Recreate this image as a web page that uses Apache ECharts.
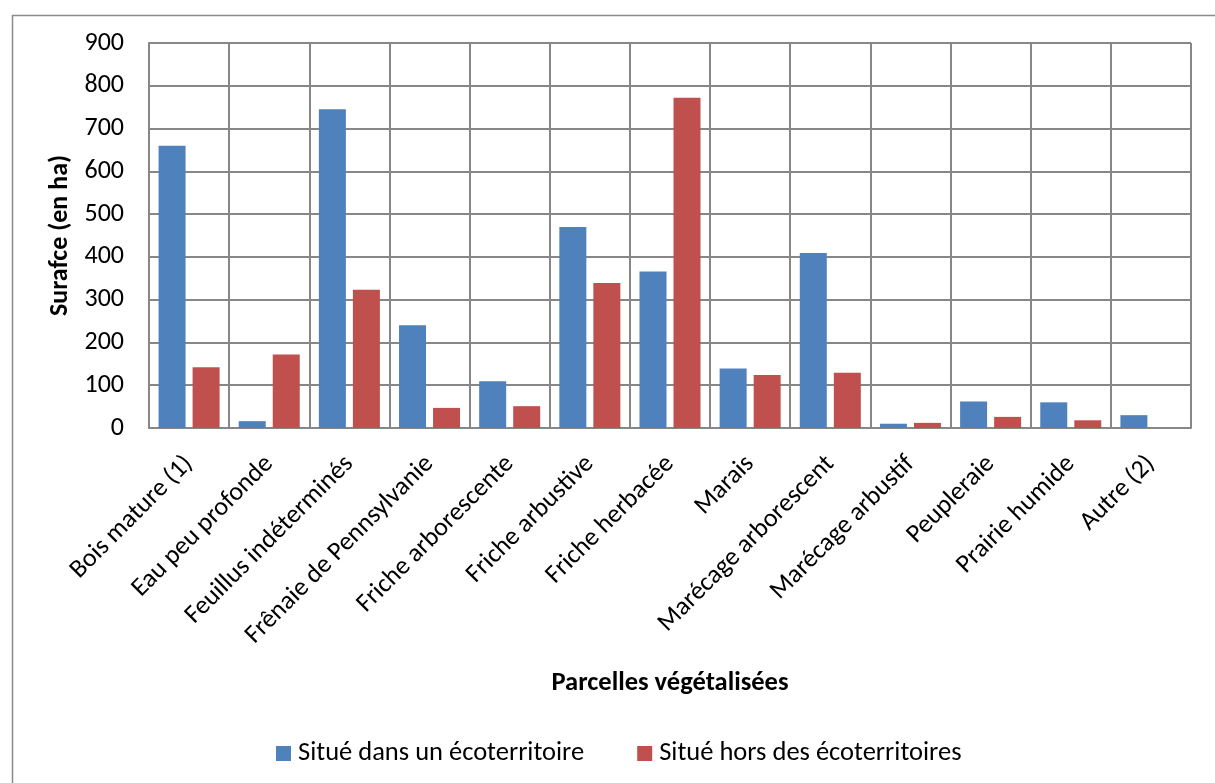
<!DOCTYPE html>
<html>
<head>
<meta charset="utf-8">
<script src="https://cdn.jsdelivr.net/npm/echarts@6/dist/echarts.min.js"></script>
<style>
html,body{margin:0;padding:0;background:#fff;}
#chart{width:1215px;height:783px;}
</style>
</head>
<body>
<div id="chart"></div>
<script>
const categories = ["Bois mature (1)", "Eau peu profonde", "Feuillus indéterminés", "Frênaie de Pennsylvanie", "Friche arborescente", "Friche arbustive", "Friche herbacée", "Marais", "Marécage arborescent", "Marécage arbustif", "Peupleraie", "Prairie humide", "Autre (2)"];
const dansEcoterritoire = [660, 16, 745, 240, 109, 470, 366, 139, 409, 10, 62, 60, 30];
const horsEcoterritoires = [142, 172, 323, 47, 51, 339, 772, 124, 129, 12, 26, 18, 0];
const seriesNames = ["Situé dans un écoterritoire", "Situé hors des écoterritoires"];
const yTicks = {min: 0, max: 900, interval: 100};

const FONT = 'Carlito, "Liberation Sans", Arial, sans-serif';
const chart = echarts.init(document.getElementById('chart'), null, {renderer: 'canvas'});
chart.setOption({
  animation: false,
  backgroundColor: '#ffffff',
  textStyle: {fontFamily: FONT, color: '#000'},
  graphic: [{
    type: 'rect', left: 10, top: 13, silent: true,
    shape: {x: 0, y: 0, width: 1400, height: 1000},
    style: {fill: 'none', stroke: '#8a8a8a', lineWidth: 1.5}
  }],
  grid: {left: 149, right: 24, top: 43, bottom: 355, containLabel: false},
  legend: {
    left: 271, top: 735, icon: 'rect', itemWidth: 15, itemHeight: 15, itemGap: 53,
    textStyle: {fontFamily: FONT, fontSize: 26.5, color: '#000', padding: [0, 0, 0, 2]},
    data: seriesNames
  },
  xAxis: {
    type: 'category', data: categories,
    name: 'Parcelles végétalisées', nameLocation: 'middle', nameGap: 242,
    nameTextStyle: {fontFamily: FONT, fontSize: 26.5, fontWeight: 'bold', color: '#000'},
    axisLine: {show: true, lineStyle: {color: '#878787', width: 2}},
    axisTick: {show: false},
    splitLine: {show: true, lineStyle: {color: '#878787', width: 2}},
    axisLabel: {interval: 0, rotate: 45, margin: 32, fontFamily: FONT, fontSize: 26, color: '#000'}
  },
  yAxis: {
    type: 'value', min: yTicks.min, max: yTicks.max, interval: yTicks.interval,
    name: 'Surafce (en ha)', nameLocation: 'middle', nameGap: 74,
    nameTextStyle: {fontFamily: FONT, fontSize: 26, fontWeight: 'bold', color: '#000'},
    axisLine: {show: true, lineStyle: {color: '#878787', width: 2}},
    axisTick: {show: false},
    splitLine: {show: true, lineStyle: {color: '#878787', width: 2}},
    axisLabel: {margin: 25, fontFamily: FONT, fontSize: 26, color: '#000'}
  },
  series: [
    {name: seriesNames[0], type: 'bar', data: dansEcoterritoire, barWidth: 27, barGap: '26%',
     itemStyle: {color: '#4F81BD'}},
    {name: seriesNames[1], type: 'bar', data: horsEcoterritoires, barWidth: 27, barGap: '26%',
     itemStyle: {color: '#C0504D'}}
  ]
});
</script>
</body>
</html>
